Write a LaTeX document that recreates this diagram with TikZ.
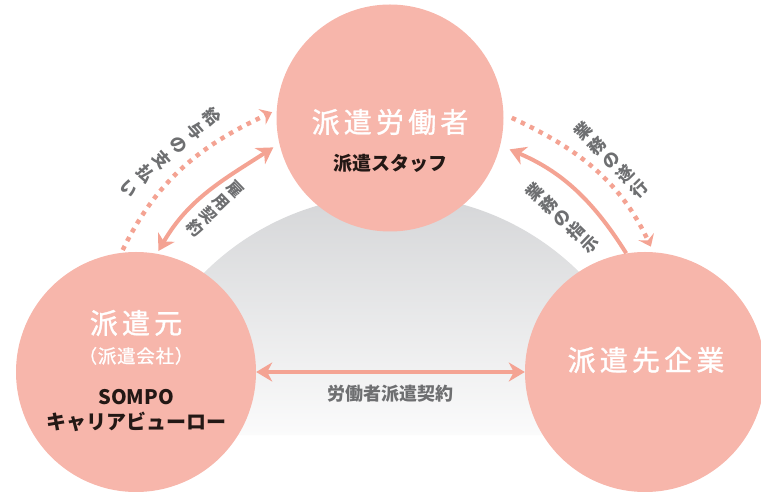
\documentclass[tikz,border=0pt]{standalone}
\usepackage{fontspec}
\setmainfont{Noto Sans CJK JP}
\newfontfamily\titlefont[LetterSpace=15, FakeBold=1.2]{Noto Sans CJK JP}
\newfontfamily\subtitlefont[LetterSpace=4, FakeBold=1]{Noto Sans CJK JP}
\usepackage{tikz}
\usetikzlibrary{arrows.meta}
\usetikzlibrary{calc}
\usetikzlibrary{positioning}

\definecolor{salmon}{HTML}{F7B6AB}
\definecolor{arrowsalmon}{HTML}{F4A393}
\definecolor{labelgray}{HTML}{6E6F71}
\definecolor{domegray}{HTML}{D3D4D6}
\definecolor{inkblack}{HTML}{231815}

\tikzset{
  party/.style={circle, fill=salmon, inner sep=0pt},
  partytitle/.style={text=white, font=\titlefont\fontsize{28}{30}\selectfont},
  partyname/.style={text=inkblack, font=\bfseries\fontsize{20}{25}\selectfont, align=center},
  paydots/.style={draw=arrowsalmon, line width=4.5pt, dash pattern=on 4.5pt off 5.5pt,
    -{Stealth[length=11pt,width=17pt,inset=4pt]}},
  contract/.style={draw=arrowsalmon, line width=4pt,
    {Stealth[length=16pt,width=19pt,inset=5pt]}-{Stealth[length=16pt,width=19pt,inset=5pt]}},
  order/.style={draw=arrowsalmon, line width=4pt, -{Stealth[length=16pt,width=19pt,inset=5pt]}},
  tatelabel/.style={text=labelgray, align=center, inner sep=0pt}
}

\begin{document}
\begin{tikzpicture}[x=1pt, y=1pt]
\useasboundingbox (0,0) rectangle (761,495);

% Fondo
\shade[top color=domegray, bottom color=white] (392,34) ++(5.6:266) arc[start angle=5.6, end angle=174.4, radius=266] -- cycle;

% Circulos
\node [party, minimum size=227pt] at (390,377) (worker) {};
\node [party, minimum size=240pt] at (136,123) (moto) {};
\node [party, minimum size=240pt] at (645,123) (client) {};

% Textos de los circulos
\node [partytitle] at (390,373) (workertitle) {派遣労働者};
\node [partyname, font=\bfseries\fontsize{19}{22}\selectfont, below=12pt of workertitle] (workersub) {派遣スタッフ};

\node [partytitle] at (136,172) (mototitle) {派遣元};
\node [text=white, font=\subtitlefont\fontsize{18.5}{22}\selectfont, below=4pt of mototitle] (motosub) {（派遣会社）};
\node [partyname] at (136,84) (motoname) {SOMPO\\キャリアビューロー};

\node [partytitle] at (646,135) (clienttitle) {派遣先企業};

% Flechas
\draw[paydots, shorten >=5pt, shorten <=3pt] (moto.97) to[out=64, in=205] (worker.176);
\draw[contract, shorten >=7pt, shorten <=3pt] (moto.80) to[out=60, in=213] (worker.193);
\draw[paydots, shorten <=9pt, shorten >=6pt] (worker.2) to[out=-25, in=115] (client.86);
\draw[order, shorten >=10pt] (client.99) to[out=122, in=-23] (worker.-14);
\draw[contract] (moto.east) -- (client.west);

% Etiquetas
\node [tatelabel, font=\bfseries\fontsize{17}{22}\selectfont, rotate=-49] at (171,343) (paylabel) {給\\与\\の\\支\\払\\い};
\node [tatelabel, font=\bfseries\fontsize{16}{18.5}\selectfont, rotate=-46] at (215,286) (hirelabel) {雇\\用\\契\\約};
\node [tatelabel, font=\bfseries\fontsize{17}{20}\selectfont, rotate=44] at (611,335) (worklabel) {業\\務\\の\\遂\\行};
\node [tatelabel, font=\bfseries\fontsize{17}{19}\selectfont, rotate=46] at (562,277) (orderlabel) {業\\務\\の\\指\\示};
\node [tatelabel, font=\bfseries\fontsize{18}{22}\selectfont, below=13pt of $(moto.east)!0.5!(client.west)$] (dispatchlabel) {労働者派遣契約};

\end{tikzpicture}
\end{document}
